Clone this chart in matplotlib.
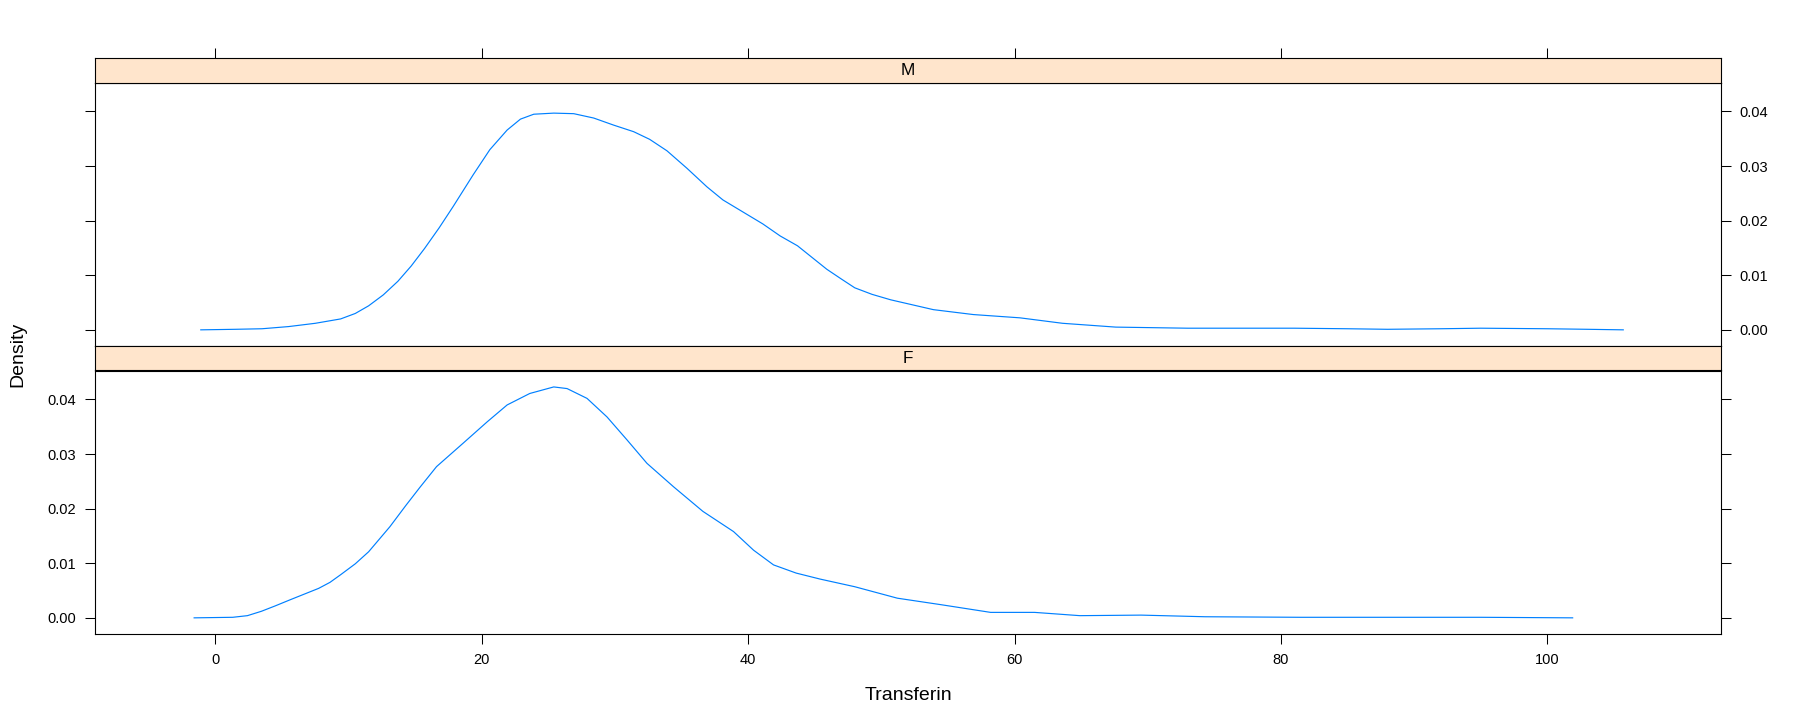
import matplotlib
matplotlib.use("Agg")
import matplotlib.pyplot as plt

plt.rcParams["font.family"] = ["Liberation Sans", "DejaVu Sans"]

# density estimates of Transferin
m_x = [-1.1, 1.5, 3.5, 5.5, 7.5, 9.4, 10.5, 11.5, 12.6, 13.7, 14.7, 15.7, 16.8,
       17.85, 19.35, 20.6, 21.9, 22.9, 23.9, 25.4, 26.9, 28.4, 29.9, 31.4, 32.6,
       33.9, 35.4, 36.9, 38.1, 39.6, 41.1, 42.4, 43.7, 45.9, 47.0, 48.0, 49.3,
       50.7, 53.9, 56.9, 60.4, 63.6, 67.6, 73.0, 78.4, 81.0, 85.0, 88.0, 92.0,
       95.0, 100.0, 103.0, 105.7]
m_y = [0.0000, 0.0001, 0.0002, 0.0006, 0.0012, 0.0020, 0.0030, 0.0044, 0.0064,
       0.0089, 0.0117, 0.0149, 0.0187, 0.0226, 0.0284, 0.0330, 0.0366, 0.0386,
       0.0395, 0.0397, 0.0396, 0.0388, 0.0375, 0.0363, 0.0349, 0.0328, 0.0296,
       0.0262, 0.0238, 0.0216, 0.0194, 0.0172, 0.0154, 0.0111, 0.0093, 0.0077,
       0.0065, 0.0055, 0.0037, 0.0028, 0.0022, 0.0012, 0.0005, 0.0003, 0.0003,
       0.0003, 0.0002, 0.0001, 0.0002, 0.0003, 0.0002, 0.0001, 0.0000]

f_x = [-1.6, 1.3, 2.4, 3.45, 4.5, 5.6, 7.75, 8.6, 9.4, 10.5, 11.5, 13.1, 14.3,
       15.35, 16.6, 18.6, 20.4, 21.9, 23.6, 25.4, 26.4, 27.9, 29.4, 30.9, 32.4,
       34.4, 36.6, 38.9, 40.4, 41.9, 43.6, 45.4, 48.0, 51.2, 54.5, 58.2, 61.5,
       64.9, 69.5, 74.3, 81.5, 88.0, 95.0, 101.9]
f_y = [0.0000, 0.0001, 0.0004, 0.0012, 0.0022, 0.0033, 0.0054, 0.0065, 0.0079,
       0.0099, 0.0121, 0.0167, 0.0206, 0.0239, 0.0277, 0.0320, 0.0359, 0.0390,
       0.0411, 0.0423, 0.0420, 0.0402, 0.0368, 0.0326, 0.0283, 0.0240, 0.0195,
       0.0158, 0.0124, 0.0097, 0.0082, 0.0071, 0.0057, 0.0036, 0.0024, 0.0010,
       0.0010, 0.0004, 0.0005, 0.0002, 0.0001, 0.0001, 0.0001, 0.0000]

x_ticks = [0, 20, 40, 60, 80, 100]
y_ticks = [0.00, 0.01, 0.02, 0.03, 0.04]
y_labels = ["0.00", "0.01", "0.02", "0.03", "0.04"]

LINE = "#0080ff"
STRIP = "#ffe5cc"
XLIM = (-9.08, 113.0)
YLIM = (-0.00296, 0.04531)

W, H = 1800, 720
fig = plt.figure(figsize=(18, 7.2), dpi=100)


def box(top, bottom):
    # pixel rows -> figure fraction rectangle
    return [94.5 / W, 1 - bottom / H, (1720.5 - 94.5) / W, (bottom - top) / H]


tick_kw = dict(direction="out", length=7.2, width=0.75, labelsize=10.5, pad=6.3)

ax_m = fig.add_axes(box(82.5, 346))
ax_f = fig.add_axes(box(370.5, 634))
st_m = fig.add_axes(box(58, 82.5))
st_f = fig.add_axes(box(346, 370.5))

for ax in (ax_m, ax_f, st_m, st_f):
    for s in ax.spines.values():
        s.set_linewidth(0.8)
    ax.set_xlim(*XLIM)

for st, name in ((st_m, "M"), (st_f, "F")):
    st.set_facecolor(STRIP)
    st.set_ylim(0, 1)
    st.set_yticks([])
    st.text(0.5, 0.5, name, transform=st.transAxes, ha="center", va="center",
            fontsize=12.3)
    st.set_xticks([])

# top ticks sit above the upper strip
st_m.set_xticks(x_ticks)
st_m.tick_params(axis="x", top=True, bottom=False, labeltop=False,
                 labelbottom=False, **tick_kw)

ax_m.plot(m_x, m_y, color=LINE, lw=0.85)
ax_f.plot(f_x, f_y, color=LINE, lw=0.85)

for ax in (ax_m, ax_f):
    ax.set_ylim(*YLIM)
    ax.set_yticks(y_ticks)
    ax.set_yticklabels(y_labels)

ax_m.set_xticks([])
ax_m.tick_params(axis="y", left=True, right=True, labelleft=False,
                 labelright=True, **tick_kw)

ax_f.set_xticks(x_ticks)
ax_f.tick_params(axis="x", **tick_kw)
ax_f.tick_params(axis="y", left=True, right=True, labelleft=True,
                 labelright=False, **tick_kw)

fig.text(908 / W, 1 - 700 / H, "Transferin", ha="center", va="baseline",
         fontsize=14)
fig.text(17.5 / W, 1 - 354 / H, "Density", rotation=90, ha="center",
         va="center", fontsize=14)

fig.savefig("out.png", dpi=100)
